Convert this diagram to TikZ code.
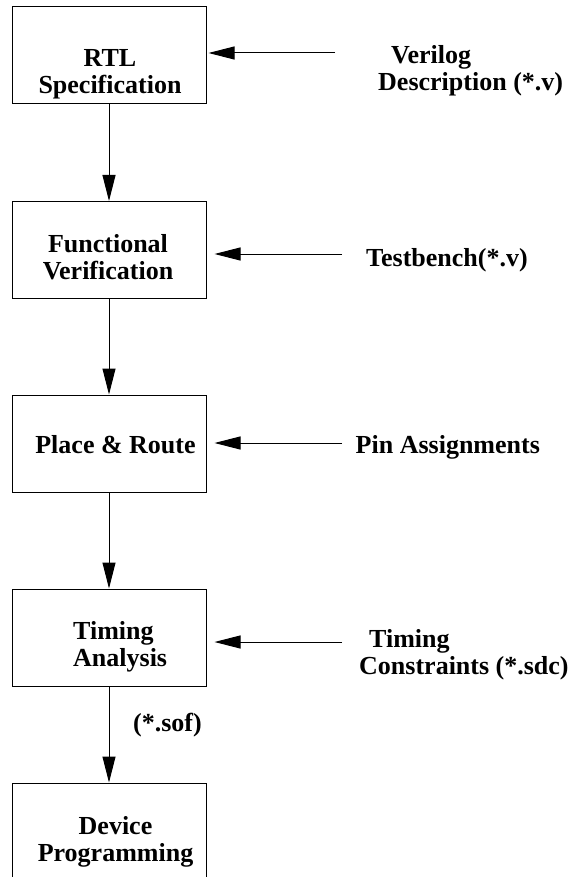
\documentclass[tikz,border=0pt]{standalone}
\usepackage{fontspec}
\setmainfont{Liberation Serif}
\usetikzlibrary{arrows.meta}
\tikzset{
  box/.style={draw=black, line width=1pt, minimum width=194pt, minimum height=97pt, inner sep=0pt},
  lbl/.style={inner sep=0pt, font=\fontsize{26}{27}\selectfont\bfseries},
  arr/.style={line width=1pt, -{Triangle[length=26pt,width=13pt]}},
}
\begin{document}
\begin{tikzpicture}[x=1pt,y=-1pt]
\useasboundingbox (0,0) rectangle (570,877);
% boxes
\node[box] (rtl) at (109,55.5) {};
\node[box] (fv)  at (109,250) {};
\node[box] (pr)  at (109,443.5) {};
\node[box] (ta)  at (109,637.5) {};
\node[box] (dp)  at (109,831.5) {};
% box texts
\node[lbl, anchor=base] (trtl) at (110,67) {\begin{tabular}[t]{@{}c@{}}RTL\\Specification\end{tabular}};
\node[lbl, anchor=base] (tfv) at (108,252.5) {\begin{tabular}[t]{@{}c@{}}Functional\\Verification\end{tabular}};
\node[lbl, anchor=base] (tpr) at (115.5,453.5) {Place \& Route};
\node[lbl, anchor=base west] (tta) at (73,639) {\begin{tabular}[t]{@{}l@{}}Timing\\Analysis\end{tabular}};
\node[lbl, anchor=base] (tdp) at (115.5,834.5) {\begin{tabular}[t]{@{}c@{}}Device\\Programming\end{tabular}};
% right-hand inputs
\node[lbl, anchor=base west] (vd) at (378,64) {\begin{tabular}[t]{@{}l@{}}\hspace{13pt}Verilog\\Description (*.v)\end{tabular}};
\node[lbl, anchor=base west] (tb) at (366,266) {Testbench(*.v)};
\node[lbl, anchor=base west] (pa) at (355.5,453.5) {Pin Assignments};
\node[lbl, anchor=base west] (tc) at (359,647.5) {\begin{tabular}[t]{@{}l@{}}\hspace{10pt}Timing\\Constraints (*.sdc)\end{tabular}};
\node[lbl, anchor=base] (sof) at (167.5,731.5) {(*.sof)};
% input arrow start points
\coordinate (s1) at (335,53);
\coordinate (s2) at (342,254);
\coordinate (s3) at (342,443);
\coordinate (s4) at (342,642);
% vertical flow
\draw[arr] (rtl.south) -- (fv.north);
\draw[arr] (fv.south) -- (pr.north);
\draw[arr] (pr.south) -- (ta.north);
\draw[arr] (ta.south) -- (dp.north);
% horizontal inputs
\draw[arr, shorten >=2pt] (s1) -- (s1 -| rtl.east);
\draw[arr, shorten >=8pt] (s2) -- (s2 -| fv.east);
\draw[arr, shorten >=8pt] (s3) -- (s3 -| pr.east);
\draw[arr, shorten >=8pt] (s4) -- (s4 -| ta.east);
\end{tikzpicture}
\end{document}
